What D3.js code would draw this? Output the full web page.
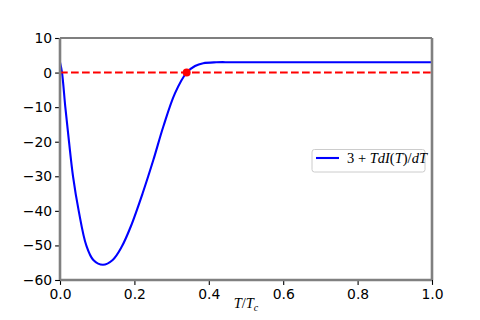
<!DOCTYPE html>
<html>
<head>
<meta charset="utf-8">
<script src="https://d3js.org/d3.v7.min.js"></script>
<style>
	body { margin: 0; background: #fff; }
	svg text { font-family: "DejaVu Sans", sans-serif; }
</style>
</head>
<body>
<div id="chart"></div>
<script>
	// values
	let tValues = [0, 0.0054, 0.0143, 0.0242, 0.035, 0.0503, 0.0707, 0.0896, 0.1155, 0.1416, 0.1658, 0.190, 0.2222, 0.2509, 0.2778, 0.309, 0.3405, 0.363, 0.385, 0.42, 0.46, 0.6, 0.8, 1.0];
	let yValues = [3, 0, -10, -20, -30, -40, -50, -54.2, -55.6, -54.2, -50.4, -44.6, -34.9, -25.3, -15.6, -6, 0, 1.9, 2.7, 2.98, 3, 3, 3, 3];
	let xTicks = [0, 0.2, 0.4, 0.6, 0.8, 1.0];
	let yTicks = [-60, -50, -40, -30, -20, -10, 0, 10];
	let zeroPoint = [0.3405, 0];

	let W = 480, H = 320;
	let mLeft = 60, mRight = 432, mTop = 38, mBottom = 280;

	let svg = d3.select("#chart").append("svg")
		.attr("width", W).attr("height", H);

	let x = d3.scaleLinear().domain([0, 1]).range([mLeft, mRight]);
	let y = d3.scaleLinear().domain([-60, 10]).range([mBottom, mTop]);

	// clip for the curve
	svg.append("clipPath").attr("id", "clip")
		.append("rect")
		.attr("x", mLeft).attr("y", mTop)
		.attr("width", mRight - mLeft).attr("height", mBottom - mTop);

	let data = tValues.map((t, i) => [t, yValues[i]]);

	let line = d3.line()
		.x(d => x(d[0]))
		.y(d => y(d[1]))
		.curve(d3.curveCatmullRom.alpha(0.5));

	let plot = svg.append("g").attr("clip-path", "url(#clip)");

	plot.append("path")
		.datum(data)
		.attr("d", line)
		.attr("fill", "none")
		.attr("stroke", "#0000ff")
		.attr("stroke-width", 2.1);

	// dashed zero line
	plot.append("line")
		.attr("x1", x(0)).attr("x2", x(1))
		.attr("y1", y(0)).attr("y2", y(0))
		.attr("stroke", "#ff0000")
		.attr("stroke-width", 2.1)
		.attr("stroke-dasharray", "7.7,3.3");

	svg.append("circle")
		.attr("cx", x(zeroPoint[0]))
		.attr("cy", y(zeroPoint[1]))
		.attr("r", 4)
		.attr("fill", "#ff0000");

	// axes
	let xAxis = d3.axisBottom(x).tickValues(xTicks).tickFormat(d3.format(".1f")).tickSize(4.9).tickPadding(4);
	let yAxis = d3.axisLeft(y).tickValues(yTicks).tickFormat(d3.format("d")).tickSize(4.9).tickPadding(3);

	let gx = svg.append("g").attr("transform", "translate(0," + mBottom + ")").call(xAxis);
	let gy = svg.append("g").attr("transform", "translate(" + mLeft + ",0)").call(yAxis);

	[gx, gy].forEach(g => {
		g.select(".domain").remove();
		g.selectAll("text").attr("font-size", 13.9).attr("fill", "#000");
		g.selectAll("line").attr("stroke", "#000").attr("stroke-width", 1.1);
	});

	// spines
	svg.append("line").attr("x1", mLeft).attr("x2", mRight).attr("y1", mTop).attr("y2", mTop)
		.attr("stroke", "#000").attr("stroke-width", 1.1);
	[[mLeft, mTop, mLeft, mBottom], [mLeft, mBottom, mRight, mBottom], [mRight, mTop, mRight, mBottom]].forEach(s => {
		svg.append("line")
			.attr("x1", s[0]).attr("y1", s[1]).attr("x2", s[2]).attr("y2", s[3])
			.attr("stroke", "#808080").attr("stroke-width", 2.6);
	});

	// x label: T/T_c
	let xl = svg.append("text")
		.attr("x", (mLeft + mRight) / 2)
		.attr("y", 308)
		.attr("text-anchor", "middle")
		.style("font-family", "'Liberation Serif', serif")
		.attr("font-size", 14.5);
	xl.append("tspan").attr("font-style", "italic").text("T");
	xl.append("tspan").text("/");
	xl.append("tspan").attr("font-style", "italic").text("T");
	xl.append("tspan").attr("font-style", "italic").attr("font-size", 10).attr("dy", 2.5).text("c");

	// legend
	let lg = svg.append("g");
	lg.append("rect")
		.attr("x", 312).attr("y", 149.5)
		.attr("width", 113).attr("height", 22.5)
		.attr("rx", 2.5)
		.attr("fill", "#fff").attr("fill-opacity", 0.8)
		.attr("stroke", "#cccccc").attr("stroke-width", 1);
	lg.append("line")
		.attr("x1", 316).attr("x2", 339)
		.attr("y1", 158).attr("y2", 158)
		.attr("stroke", "#0000ff").attr("stroke-width", 2.1);
	let lt = lg.append("text")
		.attr("x", 347).attr("y", 163)
		.style("font-family", "'Liberation Serif', serif")
		.attr("font-size", 14.5);
	lt.append("tspan").text("3 + ");
	lt.append("tspan").attr("font-style", "italic").text("TdI");
	lt.append("tspan").text("(");
	lt.append("tspan").attr("font-style", "italic").text("T");
	lt.append("tspan").text(")/");
	lt.append("tspan").attr("font-style", "italic").text("dT");
</script>
</body>
</html>
